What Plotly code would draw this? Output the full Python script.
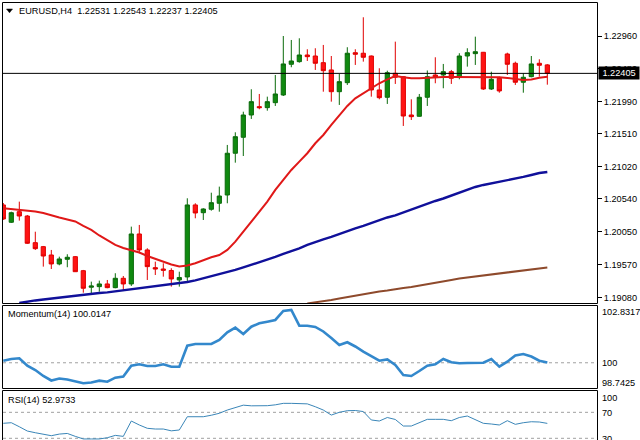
import plotly.graph_objects as go

W, H = 640, 440

# ---------------- data ----------------
candle_idx = list(range(69))

opens = [1.20451, 1.20194, 1.20351, 1.20287, 1.19891, 1.19832, 1.19708, 1.19575, 1.19644, 1.19683,
         1.19475, 1.19229, 1.19238, 1.19278, 1.19223, 1.19362, 1.19278, 1.20020, 1.19783, 1.19520,
         1.19500, 1.19478, 1.19337, 1.19382, 1.20451, 1.20336, 1.20387, 1.20476, 1.20599, 1.21219,
         1.21456, 1.21787, 1.21911, 1.21896, 1.21970, 1.22084, 1.22540, 1.22579, 1.22678, 1.22663,
         1.22564, 1.22456, 1.22133, 1.22267, 1.22712, 1.22704, 1.22663, 1.22159, 1.22050, 1.22406,
         1.22356, 1.21787, 1.21768, 1.22050, 1.22381, 1.22381, 1.22430, 1.22347, 1.22663, 1.22698,
         1.22718, 1.22173, 1.22332, 1.22693, 1.22555, 1.22273, 1.22356, 1.22555, 1.22531]
highs = [1.20480, 1.20351, 1.20500, 1.20302, 1.20054, 1.19842, 1.19783, 1.19683, 1.19719, 1.19693,
         1.19486, 1.19312, 1.19327, 1.19337, 1.19437, 1.19396, 1.20129, 1.20154, 1.19808, 1.19609,
         1.19585, 1.19511, 1.19460, 1.20550, 1.20476, 1.20402, 1.20633, 1.20723, 1.21342, 1.21530,
         1.21836, 1.22169, 1.22099, 1.22059, 1.22381, 1.22960, 1.22901, 1.22926, 1.22763, 1.22778,
         1.22827, 1.22663, 1.22396, 1.22793, 1.22763, 1.23238, 1.22670, 1.22481, 1.22445, 1.22876,
         1.22365, 1.22020, 1.22099, 1.22448, 1.22644, 1.22545, 1.22456, 1.22704, 1.22778, 1.22950,
         1.22723, 1.22430, 1.22356, 1.22712, 1.22579, 1.22406, 1.22663, 1.22614, 1.22543]
lows = [1.20228, 1.20183, 1.20218, 1.19872, 1.19783, 1.19535, 1.19500, 1.19555, 1.19526, 1.19456,
        1.19148, 1.19140, 1.19163, 1.19214, 1.19214, 1.19189, 1.19248, 1.19734, 1.19337, 1.19411,
        1.19386, 1.19238, 1.19238, 1.19293, 1.20253, 1.20228, 1.20366, 1.20351, 1.20476, 1.21079,
        1.21178, 1.21728, 1.21872, 1.21851, 1.21921, 1.22069, 1.22496, 1.22564, 1.22589, 1.22456,
        1.22133, 1.21985, 1.21936, 1.22233, 1.22530, 1.22579, 1.22059, 1.22020, 1.21951, 1.22248,
        1.21624, 1.21713, 1.21762, 1.21921, 1.22258, 1.22184, 1.22248, 1.22317, 1.22505, 1.22530,
        1.22159, 1.22159, 1.22118, 1.22381, 1.22233, 1.22118, 1.22347, 1.22356, 1.22237]
closes = [1.20243, 1.20336, 1.20287, 1.19882, 1.19802, 1.19693, 1.19575, 1.19649, 1.19674, 1.19460,
          1.19214, 1.19248, 1.19278, 1.19223, 1.19362, 1.19278, 1.20020, 1.19783, 1.19535, 1.19500,
          1.19481, 1.19352, 1.19374, 1.20451, 1.20332, 1.20391, 1.20485, 1.20584, 1.21219, 1.21465,
          1.21787, 1.21985, 1.21896, 1.21985, 1.22099, 1.22545, 1.22589, 1.22678, 1.22653, 1.22555,
          1.22445, 1.22133, 1.22282, 1.22704, 1.22689, 1.22644, 1.22159, 1.22044, 1.22415, 1.22347,
          1.21772, 1.21762, 1.22050, 1.22356, 1.22347, 1.22430, 1.22332, 1.22663, 1.22712, 1.22727,
          1.22173, 1.22317, 1.22144, 1.22540, 1.22273, 1.22347, 1.22545, 1.22525, 1.22405]

ma_red = [1.20402, 1.20391, 1.20384, 1.20369, 1.20354, 1.20332, 1.20295, 1.20265, 1.20235, 1.20206,
          1.20139, 1.20080, 1.19998, 1.19924, 1.19857, 1.19812, 1.19783, 1.19745, 1.19693, 1.19649,
          1.19612, 1.19567, 1.19537, 1.19552, 1.19585, 1.19634, 1.19674, 1.19708, 1.19783, 1.19906,
          1.20054, 1.20203, 1.20351, 1.20500, 1.20674, 1.20822, 1.20971, 1.21094, 1.21219, 1.21367,
          1.21490, 1.21639, 1.21787, 1.21921, 1.22035, 1.22110, 1.22184, 1.22258, 1.22317, 1.22366,
          1.22347, 1.22332, 1.22332, 1.22341, 1.22347, 1.22352, 1.22352, 1.22352, 1.22352, 1.22352,
          1.22347, 1.22347, 1.22347, 1.22337, 1.22322, 1.22307, 1.22314, 1.22341, 1.22356]

ma_blue_idx = list(range(2, 69))
ma_blue = [1.18995, 1.19018, 1.19033, 1.19047, 1.19062, 1.19077, 1.19092, 1.19107, 1.19114, 1.19129,
           1.19144, 1.19152, 1.19167, 1.19181, 1.19196, 1.19211, 1.19226, 1.19241, 1.19256, 1.19270,
           1.19293, 1.19307, 1.19330, 1.19359, 1.19389, 1.19419, 1.19448, 1.19486, 1.19523, 1.19560,
           1.19597, 1.19634, 1.19679, 1.19723, 1.19760, 1.19805, 1.19857, 1.19901, 1.19939, 1.19976,
           1.20020, 1.20065, 1.20102, 1.20139, 1.20183, 1.20228, 1.20265, 1.20295, 1.20339, 1.20377,
           1.20421, 1.20466, 1.20510, 1.20547, 1.20592, 1.20636, 1.20674, 1.20718, 1.20748, 1.20770,
           1.20800, 1.20822, 1.20844, 1.20867, 1.20896, 1.20926, 1.20941]

ma_brown_idx = list(range(38, 69))
ma_brown = [1.18988, 1.19003, 1.19018, 1.19040, 1.19062, 1.19085, 1.19107, 1.19122, 1.19144, 1.19167,
            1.19181, 1.19203, 1.19218, 1.19233, 1.19256, 1.19278, 1.19293, 1.19315, 1.19337, 1.19359,
            1.19374, 1.19389, 1.19404, 1.19419, 1.19433, 1.19456, 1.19471, 1.19486, 1.19500, 1.19508,
            1.19523]

momentum = [100.104, 100.189, 100.224, 99.855, 99.640, 99.341, 99.117, 99.216, 99.166, 99.067,
            98.977, 99.017, 99.107, 99.057, 99.256, 99.316, 99.855, 99.924, 99.840, 99.840,
            99.924, 99.805, 99.805, 100.852, 100.937, 100.937, 100.937, 101.136, 101.520, 101.750,
            101.435, 101.799, 101.969, 102.049, 102.134, 102.582, 102.632, 101.849, 101.849, 101.784,
            101.560, 101.236, 100.887, 101.022, 100.812, 100.553, 100.313, 100.104, 100.164, 99.890,
            99.391, 99.341, 99.590, 99.855, 99.924, 100.189, 100.024, 99.974, 99.989, 100.004,
            100.004, 100.189, 99.805, 100.054, 100.363, 100.438, 100.313, 100.104, 100.0147]

rsi = [53.1, 54.0, 47.8, 41.2, 38.6, 36.2, 34.0, 36.5, 37.5, 33.0,
       29.0, 29.0, 29.0, 30.9, 34.5, 33.0, 56.6, 50.5, 45.4, 44.3,
       44.3, 41.5, 42.8, 63.2, 63.2, 63.2, 65.5, 68.5, 73.5, 77.5,
       81.0, 80.0, 79.7, 80.2, 81.5, 83.8, 83.8, 83.8, 83.0, 78.6,
       73.5, 65.8, 70.0, 72.5, 72.8, 71.2, 58.2, 56.6, 62.0, 59.0,
       48.9, 48.9, 54.0, 59.2, 59.2, 59.2, 57.1, 62.0, 64.3, 59.1,
       53.1, 52.0, 50.5, 57.1, 51.5, 54.0, 55.5, 55.1, 52.9733]

price_ticks = [1.22960, 1.22480, 1.21990, 1.21510, 1.21020, 1.20540, 1.20050, 1.19570, 1.19080]
price_tick_text = ["1.22960", "1.22480", "1.21990", "1.21510", "1.21020", "1.20540", "1.20050", "1.19570", "1.19080"]

title_text = "EURUSD,H4\u00a0 1.22531 1.22543 1.22237 1.22405"
last_price = 1.22405
mom_label = "Momentum(14) 100.0147"
rsi_label = "RSI(14) 52.9733"
mom_max_label, mom_mid_label, mom_min_label = "102.8317", "100", "98.7425"
rsi_labels = ["100", "70", "30"]
rsi_levels = [70, 30]

# ---------------- layout helpers (pixel -> paper) ----------------
def px(p):
    return p / W

def py(p):
    return 1 - p / H

FONT = "Liberation Sans, Arial, sans-serif"
FS = 9.2

fig = go.Figure()

fig.add_trace(go.Candlestick(
    x=candle_idx, open=opens, high=highs, low=lows, close=closes,
    increasing=dict(line=dict(color="#0b6b0b", width=1), fillcolor="#108a10"),
    decreasing=dict(line=dict(color="#e00000", width=1), fillcolor="#ff1414"),
    whiskerwidth=0, xaxis="x", yaxis="y", hoverinfo="skip",
))
fig.add_trace(go.Scatter(x=ma_brown_idx, y=ma_brown, mode="lines",
                         line=dict(color="#8e4a2c", width=2), xaxis="x", yaxis="y"))
fig.add_trace(go.Scatter(x=ma_blue_idx, y=ma_blue, mode="lines",
                         line=dict(color="#10109a", width=2.4), xaxis="x", yaxis="y"))
fig.add_trace(go.Scatter(x=candle_idx, y=ma_red, mode="lines",
                         line=dict(color="#e01818", width=2), xaxis="x", yaxis="y"))
fig.add_trace(go.Scatter(x=candle_idx, y=momentum, mode="lines",
                         line=dict(color="#3388cc", width=2.6), xaxis="x2", yaxis="y2"))
fig.add_trace(go.Scatter(x=candle_idx, y=rsi, mode="lines",
                         line=dict(color="#3a86b8", width=1), xaxis="x3", yaxis="y3"))

xr = [-0.0375, 74.21]
xdom = [px(3), px(597)]
xcommon = dict(range=xr, domain=xdom, visible=False, fixedrange=True)

shapes = []
# panel frames
for (t, b) in [(2.5, 303.5), (305.5, 388.5), (390.5, 460)]:
    shapes.append(dict(type="rect", xref="paper", yref="paper",
                       x0=px(2.5), x1=px(597.5), y0=py(b), y1=py(t),
                       line=dict(color="black", width=1), fillcolor="rgba(0,0,0,0)", layer="above"))
# current price line
shapes.append(dict(type="line", xref="paper", yref="y", x0=px(3), x1=px(597),
                   y0=last_price, y1=last_price, line=dict(color="black", width=1)))
# indicator levels
shapes.append(dict(type="line", xref="paper", yref="y2", x0=px(3), x1=px(597),
                   y0=100, y1=100, line=dict(color="#a0a0a0", width=1, dash="3px,3px"), layer="below"))
for lv in rsi_levels:
    shapes.append(dict(type="line", xref="paper", yref="y3", x0=px(3), x1=px(597),
                       y0=lv, y1=lv, line=dict(color="#a0a0a0", width=1, dash="3px,3px"), layer="below"))
# small menu triangle
shapes.append(dict(type="path", xref="paper", yref="paper",
                   path=f"M {px(6.5)},{py(9)} L {px(12.5)},{py(9)} L {px(9.5)},{py(12.8)} Z",
                   fillcolor="black", line=dict(color="black", width=0.5)))

def ann(text, x, y, xanchor="left", size=FS, **kw):
    return dict(text=text, x=px(x), y=py(y), xref="paper", yref="paper",
                xanchor=xanchor, yanchor="middle", showarrow=False,
                font=dict(family=FONT, size=size, color="black"), **kw)

annotations = [
    ann(title_text, 17, 11),
    ann(mom_label, 6, 314),
    ann(rsi_label, 6, 400),
    ann(mom_max_label, 600, 311.5),
    ann(mom_mid_label, 600, 363.3),
    ann(mom_min_label, 600, 383),
    ann(rsi_labels[0], 600, 397.5),
    ann(rsi_labels[1], 600, 412.5),
    ann(rsi_labels[2], 600, 438.5),
    dict(text=f"{last_price:.5f}", x=px(598), y=last_price, xref="paper", yref="y",
         xanchor="left", yanchor="middle", showarrow=False, bgcolor="black",
         width=40, height=12, borderpad=0,
         font=dict(family=FONT, size=FS, color="white")),
]

fig.update_layout(
    width=W, height=H, margin=dict(l=0, r=0, t=0, b=0),
    paper_bgcolor="white", plot_bgcolor="white",
    showlegend=False, hovermode=False, boxgap=0.25,
    font=dict(family=FONT, size=FS, color="black"),
    xaxis=dict(**xcommon, anchor="y", rangeslider=dict(visible=False)),
    xaxis2=dict(**xcommon, anchor="y2"),
    xaxis3=dict(**xcommon, anchor="y3"),
    yaxis=dict(domain=[py(303), py(3)], range=[1.18995, 1.23450], side="right", anchor="x",
               tickvals=price_ticks, ticktext=price_tick_text, ticks="outside", ticklen=4,
               tickcolor="black", tickwidth=1, showgrid=False, zeroline=False, showline=False,
               tickfont=dict(family=FONT, size=FS, color="black"), fixedrange=True),
    yaxis2=dict(domain=[py(388), py(305)], range=[98.7425, 102.88], anchor="x2",
                visible=False, fixedrange=True),
    yaxis3=dict(domain=[0, py(391)], range=[27.4, 102.8], anchor="x3",
                visible=False, fixedrange=True),
    shapes=shapes, annotations=annotations,
)

fig.write_html("out.html")
